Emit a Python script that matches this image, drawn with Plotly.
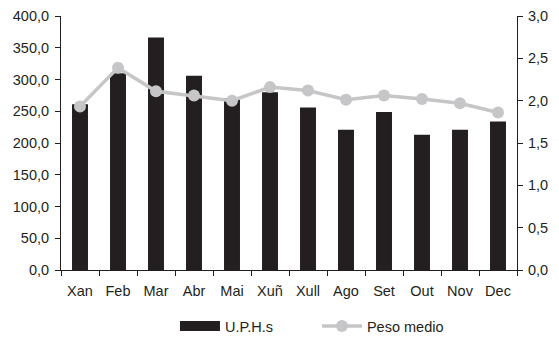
import plotly.graph_objects as go

months = ["Xan", "Feb", "Mar", "Abr", "Mai", "Xuñ", "Xull", "Ago", "Set", "Out", "Nov", "Dec"]
uphs = [261, 310, 366, 306, 271, 280, 256, 221, 249, 213, 221, 234]
peso_medio = [1.93, 2.39, 2.11, 2.06, 2.0, 2.16, 2.12, 2.01, 2.06, 2.02, 1.97, 1.86]

left_ticks = [0, 50, 100, 150, 200, 250, 300, 350, 400]
right_ticks = [0, 0.5, 1.0, 1.5, 2.0, 2.5, 3.0]

def fmt(v, d):
    return f"{v:.{d}f}".replace(".", ",")

BAR_COLOR = "#231f20"
LINE_COLOR = "#c6c6c8"

fig = go.Figure()
fig.add_trace(go.Bar(
    x=months, y=uphs, name="U.P.H.s", showlegend=False,
    marker=dict(color=BAR_COLOR, line=dict(width=0)),
    width=0.42,
))
# legend-only entry drawn as a wide block, like the original legend swatch
fig.add_trace(go.Scatter(
    x=[None], y=[None], name="U.P.H.s", mode="lines",
    line=dict(color=BAR_COLOR, width=11), legend="legend",
))
fig.add_trace(go.Scatter(
    x=months, y=peso_medio, name="Peso medio", yaxis="y2",
    mode="lines+markers",
    line=dict(color=LINE_COLOR, width=3.5),
    marker=dict(color=LINE_COLOR, size=12), legend="legend2",
))

legend_common = dict(orientation="h", xanchor="left", xref="container",
                     y=0.003, yanchor="bottom", yref="container",
                     font=dict(size=14.5), itemwidth=40, bgcolor="rgba(0,0,0,0)")

fig.update_layout(
    width=559, height=343,
    margin=dict(l=61, r=42, t=16, b=73, autoexpand=False),
    paper_bgcolor="white", plot_bgcolor="white",
    font=dict(family="Liberation Sans, Arial, sans-serif", size=14.5, color=BAR_COLOR),
    showlegend=True,
    legend=dict(x=0.313, **legend_common),
    legend2=dict(x=0.567, **legend_common),
    xaxis=dict(
        range=[-0.5, len(months) - 0.5],
        showline=True, linecolor=BAR_COLOR, linewidth=1,
        ticks="outside", ticklen=5, tickcolor=BAR_COLOR, tickangle=0,
        tickson="boundaries", showgrid=False, zeroline=False,
        automargin=False, ticklabelstandoff=8,
    ),
    yaxis=dict(
        range=[0, 400], tickvals=left_ticks, ticktext=[fmt(v, 1) for v in left_ticks],
        showline=True, linecolor=BAR_COLOR, linewidth=1,
        ticks="outside", ticklen=5, tickcolor=BAR_COLOR,
        showgrid=False, zeroline=False, ticklabelstandoff=3, automargin=False,
    ),
    yaxis2=dict(
        range=[0, 3.0], tickvals=right_ticks, ticktext=[fmt(v, 1) for v in right_ticks],
        overlaying="y", side="right",
        showline=True, linecolor=BAR_COLOR, linewidth=1,
        ticks="outside", ticklen=5, tickcolor=BAR_COLOR,
        showgrid=False, zeroline=False, ticklabelstandoff=2, automargin=False,
    ),
)

fig.write_html("out.html", config={"displayModeBar": False},
               post_script="document.body.style.margin='0';")
